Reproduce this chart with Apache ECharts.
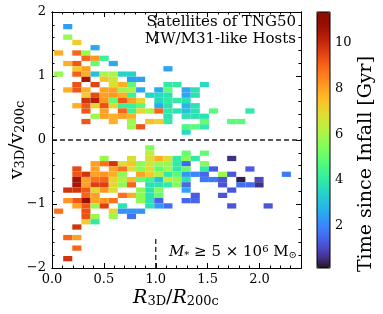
<!DOCTYPE html>
<html><head><meta charset="utf-8">
<script src="https://cdn.jsdelivr.net/npm/echarts@6/dist/echarts.min.js"></script>
<style>html,body{margin:0;padding:0;background:#fff}#c{width:383px;height:314px}</style>
</head><body><div id="c"></div>
<script>
// ---- data ----
const xTickValues = [0, 0.5, 1, 1.5, 2];
const yTickValues = [-2, -1, 0, 1, 2];
const cbTickValues = [2, 4, 6, 8, 10];
const timeMin = 0.14, timeMax = 11.35;
const xMin = 0, xMax = 2.4, yMin = -2, yMax = 2;
// histogram bins: column c spans [binX0 + c*binW, binX0 + (c+1)*binW], row r spans [r*binH, (r+1)*binH]
const binX0 = 0.02, binW = 0.0878, binH = 0.0824;
// [row, [[col, time since infall (Gyr)], ...]]
const upperRows = [
  [21, [[1,2.4]]],
  [19, [[1,5.7]]],
  [18, [[2,7.2]]],
  [17, [[4,2.5]]],
  [16, [[0,7.8],[2,9.0],[3,5.8]]],
  [15, [[3,9.0],[4,8.2],[5,4.2]]],
  [14, [[1,7.8],[2,9.2],[4,5.0],[6,2.6]]],
  [13, [[2,7.3],[3,8.0],[12,2.5]]],
  [12, [[0,5.7],[2,9.1],[3,7.8],[4,3.0],[5,6.0],[6,6.0],[7,3.4],[8,3.4]]],
  [11, [[3,10.5],[5,7.4],[6,6.6],[8,2.4],[9,2.4]]],
  [10, [[2,9.3],[4,9.5],[6,6.8],[7,7.8],[8,4.8],[12,4.0],[13,4.0],[16,3.6]]],
  [9,  [[1,7.8],[2,9.2],[3,7.8],[5,8.0],[6,8.0],[7,5.8],[8,6.2],[9,2.5],[11,2.6],[12,5.0],[14,2.5],[15,3.8]]],
  [8,  [[3,7.2],[4,9.4],[5,8.0],[6,8.2],[7,7.8],[8,4.3],[10,3.4],[11,3.6],[12,3.8],[14,2.5],[15,3.8]]],
  [7,  [[3,9.8],[4,10.3],[5,8.2],[6,5.0],[7,9.2],[8,8.0],[9,7.0],[11,3.5],[12,4.0],[13,4.0],[14,3.8]]],
  [6,  [[2,7.8],[3,9.2],[4,7.0],[5,9.3],[6,7.0],[7,4.2],[8,4.2],[9,4.8],[11,2.6],[12,3.8],[14,2.8],[15,3.8]]],
  [5,  [[3,9.2],[5,8.0],[7,9.0],[8,4.3],[9,7.0],[10,6.0],[11,9.0],[12,4.0],[13,3.8],[14,3.0],[15,3.8],[17,4.8],[21,4.0]]],
  [4,  [[4,5.8],[5,8.0],[6,7.8],[7,8.0],[8,7.8],[12,3.8],[14,3.8],[15,3.8],[16,3.8]]],
  [3,  [[3,9.2],[6,7.8],[8,5.8],[10,7.5],[11,7.2],[12,4.0],[16,5.0],[19,4.8],[20,4.8]]],
  [2,  [[8,5.8],[9,9.2],[14,4.6],[15,4.8],[16,4.0]]],
  [1,  [[14,3.6]]]
];
const lowerRows = [
  [-2,  [[10,5.5]]],
  [-3,  [[10,6.3],[14,5.0],[16,5.0]]],
  [-4,  [[5,5.8],[8,6.8],[10,6.8],[11,7.8],[12,6.8],[13,4.0],[14,5.5],[15,4.0],[19,0.6]]],
  [-5,  [[4,8.0],[5,8.8],[6,9.8],[7,6.8],[8,7.4],[9,5.6],[10,6.6],[11,5.8],[12,5.8],[13,4.0],[14,1.5],[16,5.5]]],
  [-6,  [[2,9.4],[4,8.0],[6,8.0],[7,8.8],[8,6.8],[9,5.6],[10,6.8],[11,5.0],[12,5.8],[13,4.0],[14,5.0],[16,4.0],[17,1.3],[21,1.3]]],
  [-7,  [[2,9.2],[3,9.8],[4,8.0],[5,8.2],[6,7.8],[7,5.6],[9,8.0],[10,7.2],[11,6.2],[12,4.0],[13,4.8],[14,2.3],[15,2.0],[16,1.5],[18,5.8],[19,1.2],[25,1.8]]],
  [-8,  [[2,10.6],[3,8.0],[4,8.8],[5,9.0],[6,7.0],[7,6.2],[8,7.5],[9,5.0],[10,4.5],[11,3.0],[12,6.5],[13,5.8],[14,3.8],[16,1.8],[17,1.8],[18,1.2],[20,0.3],[22,1.0]]],
  [-9,  [[2,10.5],[3,8.0],[4,9.6],[5,9.6],[6,7.0],[7,5.6],[8,9.0],[10,3.8],[11,3.8],[12,4.0],[13,5.5],[14,1.5],[18,1.2],[20,1.6],[21,1.6],[22,0.6]]],
  [-10, [[1,9.8],[2,9.8],[3,9.2],[4,7.0],[5,8.2],[6,6.8],[9,5.6],[10,3.8],[11,5.5],[14,2.5],[19,1.2]]],
  [-11, [[3,9.0],[4,8.0],[7,8.8],[8,7.8],[9,5.6],[10,3.8],[11,5.0],[15,1.3],[18,1.2]]],
  [-12, [[1,8.2],[2,9.2],[3,10.8],[4,8.0],[5,8.2],[6,8.8],[9,5.6],[10,3.8],[11,1.4],[14,1.5],[15,1.5]]],
  [-13, [[2,8.0],[3,9.2],[4,5.8],[5,9.6],[7,3.8],[10,3.8],[11,2.3],[12,1.6],[19,1.2],[23,1.2]]],
  [-14, [[0,8.8],[3,9.3],[6,7.0],[7,2.2],[8,2.2],[9,2.2]]],
  [-15, [[3,9.3],[4,5.8],[6,5.8],[8,1.7]]],
  [-16, [[3,7.2],[4,4.0]]],
  [-17, [[2,9.8]]],
  [-19, [[1,9.0],[2,8.0]]],
  [-21, [[2,9.0]]],
  [-23, [[1,9.8]]]
];
const refY = 0;
const refX = 1;
const refXSegments = [[1.5, 2], [-2, -1.5]];

// ---- helpers ----
function turbo(t){
  const r = 0.13572138 + t*(4.61539260 + t*(-42.66032258 + t*(132.13108234 + t*(-152.94239396 + t*59.28637943))));
  const g = 0.09140261 + t*(2.19418839 + t*(4.84296658 + t*(-14.18503333 + t*(4.27729857 + t*2.82956604))));
  const b = 0.10667330 + t*(12.64194608 + t*(-60.58204836 + t*(110.36276771 + t*(-89.90310912 + t*27.34824973))));
  const f = v => Math.round(255*Math.max(0, Math.min(1, v)));
  return 'rgb(' + f(r) + ',' + f(g) + ',' + f(b) + ')';
}
const turboColors = [];
for (let i = 0; i <= 64; i++) turboColors.push(turbo(i/64));

function toCells(rows){
  const out = [];
  rows.forEach(([r, cells]) => cells.forEach(([c, t]) => out.push([binX0 + (c + 0.5)*binW, (r + 0.5)*binH, t])));
  return out;
}
const cells = toCells(upperRows).concat(toCells(lowerRows));

function minorValues(a, b, step){
  const out = [];
  const n = Math.round((b - a)/step);
  for (let i = 0; i <= n; i++) out.push(+(a + i*step).toFixed(4));
  return out;
}
const xMinor = minorValues(xMin, xMax, 0.1);
const yMinor = minorValues(yMin, yMax, 0.2);

const FONT = '"DejaVu Serif", serif';
const lineBlack = {color: '#000', width: 1};

function frameAxis(kind, pos, min, max, ticks, len, label){
  const ax = {
    type: 'value', gridIndex: 0, position: pos, min: min, max: max,
    axisLine: {show: true, onZero: false, lineStyle: lineBlack},
    axisTick: {show: true, inside: true, length: len, customValues: ticks, lineStyle: lineBlack},
    axisLabel: {show: false},
    splitLine: {show: false}
  };
  if (label) {
    ax.axisLabel = {
      show: true, customValues: ticks, color: '#000', fontFamily: FONT, fontSize: 13,
      margin: kind === 'x' ? 5 : 6,
      formatter: kind === 'x' ? (v => v.toFixed(1)) : (v => v < 0 ? '\u2212' + Math.abs(v) : String(v))
    };
  }
  return ax;
}

const dashStyle = {color: '#222', width: 1.3, type: [5, 3]};
function refLine(points){
  return {type: 'line', xAxisIndex: 0, yAxisIndex: 0, data: points, symbol: 'none', silent: true,
          clip: false, z: 5, lineStyle: dashStyle};
}

const chart = echarts.init(document.getElementById('c'), null, {renderer: 'canvas'});
chart.setOption({
  animation: false,
  backgroundColor: '#fff',
  grid: [
    {left: 52, top: 12, width: 249, height: 256},
    {left: 317, top: 12, width: 13, height: 256}
  ],
  xAxis: [
    frameAxis('x', 'bottom', xMin, xMax, xTickValues, 5, true),
    frameAxis('x', 'bottom', xMin, xMax, xMinor, 2.5, false),
    frameAxis('x', 'top', xMin, xMax, xTickValues, 5, false),
    frameAxis('x', 'top', xMin, xMax, xMinor, 2.5, false),
    {type: 'value', gridIndex: 1, min: 0, max: 1, show: false}
  ],
  yAxis: [
    frameAxis('y', 'left', yMin, yMax, yTickValues, 5, true),
    frameAxis('y', 'left', yMin, yMax, yMinor, 2.5, false),
    frameAxis('y', 'right', yMin, yMax, yTickValues, 5, false),
    frameAxis('y', 'right', yMin, yMax, yMinor, 2.5, false),
    {
      type: 'value', gridIndex: 1, position: 'right', min: timeMin, max: timeMax,
      axisLine: {show: false},
      axisTick: {show: true, inside: false, length: 4, customValues: cbTickValues, lineStyle: lineBlack},
      axisLabel: {show: true, customValues: cbTickValues, color: '#000', fontFamily: FONT, fontSize: 13, margin: 5},
      splitLine: {show: false}
    }
  ],
  visualMap: {
    type: 'continuous', seriesIndex: 0, dimension: 2,
    min: timeMin, max: timeMax, inRange: {color: turboColors},
    calculable: false, hoverLink: false, realtime: false,
    orient: 'vertical', left: 317, top: 12, itemWidth: 13, itemHeight: 256,
    padding: 0, text: null, showLabel: false
  },
  series: [
    {
      type: 'custom', xAxisIndex: 0, yAxisIndex: 0, data: cells, silent: true,
      renderItem: function(params, api){
        const x = api.value(0), y = api.value(1);
        const p0 = api.coord([x - binW/2, y + binH/2]);
        const p1 = api.coord([x + binW/2, y - binH/2]);
        return {type: 'rect', shape: {x: p0[0], y: p0[1], width: p1[0]-p0[0], height: p1[1]-p0[1]},
                style: {fill: api.visual('color')}};
      }
    },
    refLine([[xMin, refY], [xMax, refY]]),
    refLine([[refX, refXSegments[0][0]], [refX, refXSegments[0][1]]]),
    refLine([[refX, refXSegments[1][0]], [refX, refXSegments[1][1]]])
  ],
  graphic: [
    {type: 'rect', z: 100, shape: {x: 317, y: 12, width: 13, height: 256},
     style: {fill: 'none', stroke: '#000', lineWidth: 1}},
    {type: 'text', z: 100, x: 296, y: 14,
     style: {text: 'Satellites of TNG50\nMW/M31-like Hosts', align: 'right', verticalAlign: 'top',
             fontFamily: FONT, fontSize: 15, lineHeight: 17, fill: '#000'}},
    {type: 'text', z: 100, x: 297, y: 252,
     style: {text: '{i|M}{sub|*}{n| \u2265 5 \u00d7 10}{sup|6}{n| M}{sub|\u2299}', align: 'right', verticalAlign: 'middle',
             fill: '#000',
             rich: {
               i: {fontFamily: FONT, fontStyle: 'italic', fontSize: 15, verticalAlign: 'bottom', lineHeight: 16},
               n: {fontFamily: FONT, fontSize: 15, verticalAlign: 'bottom', lineHeight: 16},
               sub: {fontFamily: FONT, fontSize: 10, verticalAlign: 'bottom', lineHeight: 6},
               sup: {fontFamily: FONT, fontSize: 10, verticalAlign: 'top', lineHeight: 8}
             }}},
    {type: 'text', z: 100, x: 176, y: 298,
     style: {text: '{i|R}{sub|3D}{n|/}{i|R}{sub|200c}', align: 'center', verticalAlign: 'middle', fill: '#000',
             rich: {
               i: {fontFamily: FONT, fontStyle: 'italic', fontSize: 19, verticalAlign: 'bottom', lineHeight: 20},
               n: {fontFamily: FONT, fontSize: 19, verticalAlign: 'bottom', lineHeight: 20},
               sub: {fontFamily: FONT, fontSize: 13, verticalAlign: 'bottom', lineHeight: 7}
             }}},
    {type: 'text', z: 100, x: 17, y: 140, rotation: Math.PI/2,
     style: {text: '{n|v}{sub|3D}{n|/v}{sub|200c}', align: 'center', verticalAlign: 'middle', fill: '#000',
             rich: {
               n: {fontFamily: FONT, fontSize: 19, verticalAlign: 'bottom', lineHeight: 20},
               sub: {fontFamily: FONT, fontSize: 13, verticalAlign: 'bottom', lineHeight: 7}
             }}},
    {type: 'text', z: 100, x: 366, y: 164, rotation: Math.PI/2,
     style: {text: 'Time since Infall [Gyr]', align: 'center', verticalAlign: 'middle',
             fontFamily: FONT, fontSize: 19, fill: '#000'}}
  ]
});
</script></body></html>
